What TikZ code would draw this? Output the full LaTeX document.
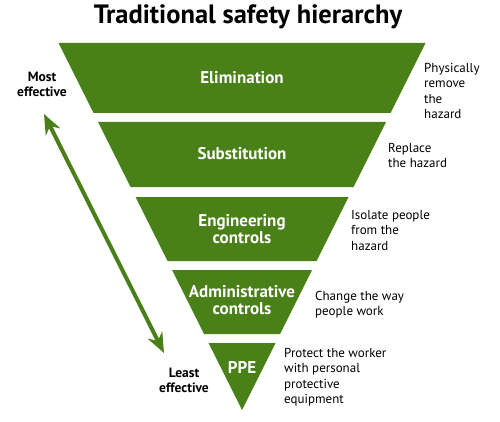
\documentclass[tikz,border=0pt]{standalone}
\usepackage{fontspec}
\setmainfont{PT Sans}
\usetikzlibrary{arrows.meta}
\definecolor{hazgreen}{RGB}{73,128,23}

\begin{document}
\begin{tikzpicture}[x=1pt, y=-1pt,
    band/.style={fill=hazgreen, draw=none},
    level/.style={text=white, inner sep=0pt, align=center, font=\fontsize{17}{17}\selectfont\bfseries},
    note/.style={anchor=north west, inner sep=0pt, align=left, font=\fontsize{13}{15.5}\selectfont},
    side/.style={inner sep=0pt, align=center, font=\fontsize{13.5}{15}\selectfont\bfseries},
    effarrow/.style={hazgreen, line width=4pt, {Stealth[length=20pt,width=16pt]}-{Stealth[length=20pt,width=16pt]}}
]
\useasboundingbox (0,0) rectangle (500,422);

% Title
\node[font=\fontsize{26.5}{26}\selectfont\bfseries] (title) at (248,17) {Traditional safety hierarchy};

% Bands of the inverted triangle (top/bottom)
\foreach \t/\b in {43/113, 122/187, 197/261, 270/334, 343/410}
  \fill[band] ({242-0.5*(410-\t)},\t) -- ({242+0.5*(410-\t)},\t)
    -- ({242+0.5*(410-\b)},\b) -- ({242-0.5*(410-\b)},\b) -- cycle;

% Levels
\node[level] (elim)  at (242,78)  {Elimination};
\node[level] (subst) at (242,154) {Substitution};
\node[level] (eng)   at (242,229) {Engineering\\controls};
\node[level] (admin) at (242,300) {Administrative\\controls};
\node[level] (ppe)   at (242,367) {PPE};

% Descriptions
\node[note] (elimtxt)  at (424,63)  {Physically\\remove\\the\\hazard};
\node[note] (substtxt) at (388,143) {Replace\\the hazard};
\node[note] (engtxt)   at (351,210) {Isolate people\\from the\\hazard};
\node[note] (admintxt) at (315,291) {Change the way\\people work};
\node[note] (ppetxt)   at (284,348) {Protect the worker\\with personal\\protective\\equipment};

% Effectiveness scale
\node[side] (most)  at (42,84)   {Most\\effective};
\node[side] (least) at (184,380) {Least\\effective};
\coordinate (hi) at (44,114);
\coordinate (lo) at (164,353);
\draw[effarrow] (hi) -- (lo);
\end{tikzpicture}
\end{document}
